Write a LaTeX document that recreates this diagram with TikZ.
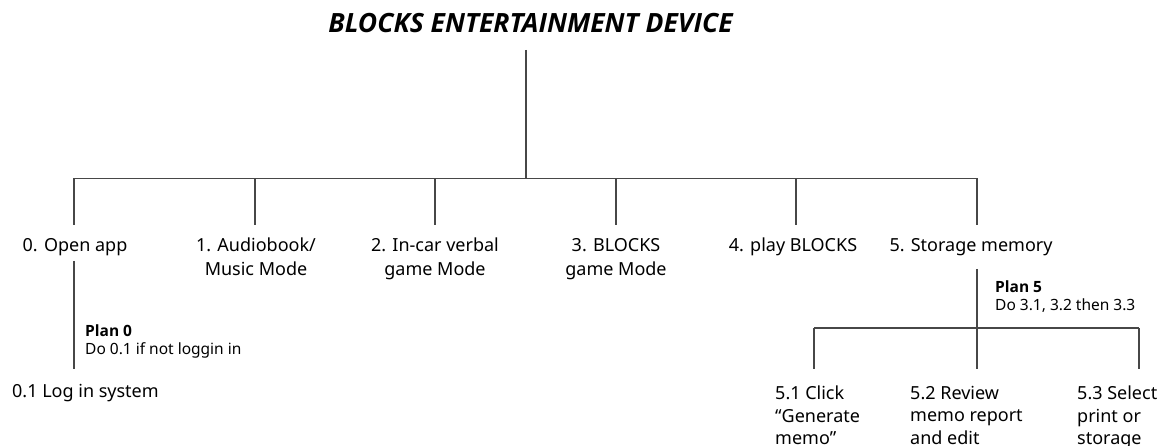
\documentclass[tikz,border=0pt]{standalone}
\usepackage{fontspec}
\setmainfont{Noto Sans}
\newfontfamily\headfont{Open Sans}
\newcommand\planname[1]{{\headfont\bfseries #1}}
\begin{document}
\begin{tikzpicture}[x=1pt,y=-1pt]
\useasboundingbox (0,0) rectangle (1172,446);
\tikzset{
  title/.style={font=\headfont\fontsize{26.5}{30}\selectfont\bfseries\itshape, inner sep=0pt},
  task/.style={font=\fontsize{18}{24}\selectfont, align=center, inner sep=0pt, anchor=north},
  subtask/.style={font=\fontsize{18}{22.5}\selectfont, align=left, inner sep=0pt, anchor=north west},
  plan/.style={font=\fontsize{15.5}{18}\selectfont, align=left, inner sep=0pt, anchor=north west},
  link/.style={draw=black!72, line width=1.25pt}
}

% title and main hub
\node[title] (root) at (530.5,23) {BLOCKS ENTERTAINMENT DEVICE};
\coordinate (rootfoot) at (526,50);
\coordinate (hub) at (526,178.5);

% first-level tasks
\node[task] (c0) at (75,238)  {0. Open app};
\node[task] (c1) at (256,238) {1. Audiobook/\\Music Mode};
\node[task] (c2) at (435,238) {2. In-car verbal\\game Mode};
\node[task] (c3) at (616,238) {3. BLOCKS\\game Mode};
\node[task] (c4) at (793,238) {4. play BLOCKS};
\node[task] (c5) at (971,238) {5. Storage memory};

% junctions on the main bus
\coordinate (b0) at (74,178.5);
\coordinate (b1) at (255,178.5);
\coordinate (b2) at (435,178.5);
\coordinate (b3) at (616,178.5);
\coordinate (b4) at (796,178.5);
\coordinate (b5) at (977,178.5);

\draw[link] (rootfoot) -- (hub);
\draw[link] (b0) -- (b5);
\foreach \i in {0,...,5}
  \draw[link, shorten >=13pt] (b\i) -- (b\i |- c\i.north);

% plan 0 and its subtask
\coordinate (p0top) at (74,261);
\coordinate (p0end) at (74,369);
\draw[link] (p0top) -- (p0end);
\node[plan] (plan0) at (85,325) {\planname{Plan 0}\\Do 0.1 if not loggin in};
\node[subtask] (c01) at (12,384) {0.1 Log in system};

% plan 5 and its subtasks
\coordinate (p5top) at (977,269);
\coordinate (p5bus) at (977,328);
\node[plan] (plan5) at (995,281) {\planname{Plan 5}\\Do 3.1, 3.2 then 3.3};
\node[subtask] (c51) at (775,386) {5.1 Click\\“Generate\\memo”};
\node[subtask] (c52) at (910,386) {5.2 Review\\memo report\\and edit};
\node[subtask] (c53) at (1077,386) {5.3 Select\\print or\\storage};
\coordinate (s1) at (814,328);
\coordinate (s2) at (977,328);
\coordinate (s3) at (1139,328);
\draw[link] (p5top) -- (p5bus);
\draw[link] (s1) -- (s3);
\draw[link] (s1) -- (s1 |- 0,369);
\draw[link] (s2) -- (s2 |- 0,369);
\draw[link] (s3) -- (s3 |- 0,369);
\end{tikzpicture}
\end{document}
